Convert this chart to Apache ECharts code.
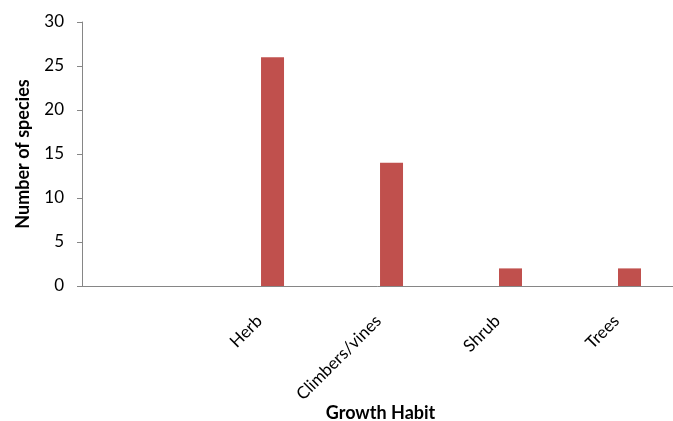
<!DOCTYPE html>
<html>
<head>
<meta charset="utf-8">
<script src="https://cdn.jsdelivr.net/npm/echarts@6/dist/echarts.min.js"></script>
<style>html,body{margin:0;padding:0;background:#fff}#c{width:673px;height:421px}</style>
</head>
<body>
<div id="c"></div>
<script>
const categories = ['', 'Herb', 'Climbers/vines', 'Shrub', 'Trees'];
const emptySeries = [null, null, null, null, null];
const speciesCounts = [null, 26, 14, 2, 2];
const yTicks = [0, 5, 10, 15, 20, 25, 30];

const chart = echarts.init(document.getElementById('c'));
const font = 'Lato, "Open Sans", sans-serif';
const yMin = yTicks[0], yMax = yTicks[yTicks.length - 1];
chart.setOption({
  animation: false,
  grid: [
    { left: 82, right: -12, top: 22, bottom: 135, containLabel: false, outerBoundsMode: 'none' },
    { left: 90, right: -12, top: 22, bottom: 135, containLabel: false, outerBoundsMode: 'none' }
  ],
  xAxis: [
    {
      gridIndex: 0, type: 'value', min: 0, max: 1,
      axisLine: { show: true, lineStyle: { color: '#868686', width: 1 } },
      axisTick: { show: false }, axisLabel: { show: false }, splitLine: { show: false }
    },
    {
      gridIndex: 1,
      type: 'category',
      data: categories,
      name: 'Growth Habit',
      nameLocation: 'middle',
      nameGap: 118,
      nameMoveOverlap: false,
      nameTextStyle: { fontFamily: font, fontSize: 18, fontWeight: 'bold', color: '#000', padding: [0, 14, 0, 0] },
      axisLine: { show: false },
      axisTick: { show: false },
      axisLabel: { rotate: 45, interval: 0, margin: 23, padding: [0, 13, 0, 0], fontFamily: font, fontSize: 17, color: '#000' }
    }
  ],
  yAxis: [
    {
      gridIndex: 0,
      type: 'value',
      min: yMin, max: yMax, interval: 5,
      name: 'Number of species',
      nameLocation: 'middle',
      nameGap: 50,
      nameMoveOverlap: false,
      nameTextStyle: { fontFamily: font, fontSize: 18, fontWeight: 'bold', color: '#000' },
      axisLine: { show: true, lineStyle: { color: '#868686', width: 1 } },
      axisTick: { show: true, length: 5, lineStyle: { color: '#868686' } },
      splitLine: { show: false },
      axisLabel: { margin: 18, fontFamily: font, fontSize: 17, color: '#000' }
    },
    {
      gridIndex: 1, type: 'value', min: yMin, max: yMax, interval: 5, show: false
    }
  ],
  series: [
    { type: 'bar', xAxisIndex: 1, yAxisIndex: 1, data: emptySeries, barWidth: 23, barGap: '-65%', itemStyle: { color: 'transparent' } },
    { type: 'bar', xAxisIndex: 1, yAxisIndex: 1, data: speciesCounts, barWidth: 23, itemStyle: { color: '#C0504D' } }
  ]
});
</script>
</body>
</html>
